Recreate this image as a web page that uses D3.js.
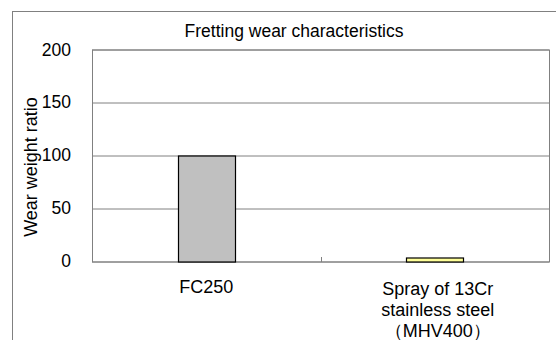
<!DOCTYPE html>
<html>
<head>
<meta charset="utf-8">
<script src="https://cdn.jsdelivr.net/npm/d3@7"></script>
<style>
  body { margin: 0; background: #fff; }
  svg { display: block; font-family: "Liberation Sans", Arial, sans-serif; }
</style>
</head>
<body>
<div id="chart"></div>
<script>
// data
var categories = ["FC250", "Spray of 13Cr|stainless steel|（MHV400）"];
var wearRatio = [100, 3];
var barColors = ["#c0c0c0", "#ffff99"];
var yTicks = [0, 50, 100, 150, 200];

var svgWidth = 556;
var svgHeight = 340;

var margin = { top: 49.5, right: 7, bottom: 79, left: 92 };
var width = 549 - margin.left;
var height = 261 - margin.top;

var svg = d3.select("#chart")
    .append("svg")
    .attr("width", svgWidth)
    .attr("height", svgHeight);

// outer chart frame (cut off at right/bottom)
svg.append("rect")
    .attr("x", 12.5)
    .attr("y", 11.5)
    .attr("width", 700)
    .attr("height", 500)
    .attr("fill", "none")
    .attr("stroke", "#808080");

svg.append("text")
    .attr("x", 294)
    .attr("y", 37)
    .attr("text-anchor", "middle")
    .attr("font-size", "17.5px")
    .attr("fill", "#000")
    .text("Fretting wear characteristics");

var chartGroup = svg.append("g")
    .attr("transform", `translate(${margin.left}, ${margin.top})`);

var xScale = d3.scaleBand()
    .domain(categories)
    .range([0, width])
    .padding(0);

var yScale = d3.scaleLinear()
    .domain([0, 200])
    .range([height, 0]);

// gridlines
chartGroup.selectAll(".grid")
    .data(yTicks)
    .enter()
    .append("line")
    .attr("x1", 0)
    .attr("x2", width)
    .attr("y1", d => Math.round(yScale(d)) + 0.5)
    .attr("y2", d => Math.round(yScale(d)) + 0.5)
    .attr("stroke", "#808080");

// plot border
chartGroup.append("rect")
    .attr("x", 0.5)
    .attr("y", 0.5)
    .attr("width", width)
    .attr("height", Math.round(height))
    .attr("fill", "none")
    .attr("stroke", "#808080");

// y axis labels
var leftAxis = d3.axisLeft(yScale)
    .tickValues(yTicks)
    .tickSize(0)
    .tickPadding(21);

var yAxis = chartGroup.append("g").call(leftAxis);
yAxis.select(".domain").remove();
yAxis.selectAll("text")
    .attr("font-size", "17.5px")
    .attr("font-family", "Liberation Sans, Arial, sans-serif")
    .attr("fill", "#000");

// x axis: tick between categories, pointing up
var yBase = Math.round(yScale(0)) + 0.5;
chartGroup.append("line")
    .attr("x1", Math.round(xScale(categories[1])) + 0.5)
    .attr("x2", Math.round(xScale(categories[1])) + 0.5)
    .attr("y1", yBase)
    .attr("y2", yBase - 5)
    .attr("stroke", "#808080");

// bars
var barW = xScale.bandwidth() * 0.25;
chartGroup.selectAll(".bar")
    .data(categories)
    .enter()
    .append("rect")
    .attr("x", d => Math.round(xScale(d) + (xScale.bandwidth() - barW) / 2) + 0.5)
    .attr("y", (d, i) => Math.round(yScale(wearRatio[i])) + 0.5)
    .attr("width", Math.round(barW))
    .attr("height", (d, i) => Math.round(yScale(0)) - Math.round(yScale(wearRatio[i])))
    .attr("fill", (d, i) => barColors[i])
    .attr("stroke", "#000")
    .attr("stroke-width", 1.2);

// category labels
var catLabels = chartGroup.selectAll(".cat")
    .data(categories)
    .enter()
    .append("text")
    .attr("text-anchor", "middle")
    .attr("font-size", "18px")
    .attr("fill", "#000")
    .attr("transform", (d, i) => `translate(${xScale(d) + xScale.bandwidth() / 2 + (i ? 3 : 0)}, ${height + 32 + (i ? 2 : 0)})`);

catLabels.each(function(d) {
    var lines = d.split("|");
    d3.select(this).selectAll("tspan")
        .data(lines)
        .enter()
        .append("tspan")
        .attr("x", 0)
        .attr("dy", (l, j) => j ? 21 : 0)
        .text(l => l);
});

// y axis title
svg.append("text")
    .attr("transform", "translate(37, 167) rotate(-90)")
    .attr("text-anchor", "middle")
    .attr("font-size", "18px")
    .attr("fill", "#000")
    .text("Wear weight ratio");
</script>
</body>
</html>
